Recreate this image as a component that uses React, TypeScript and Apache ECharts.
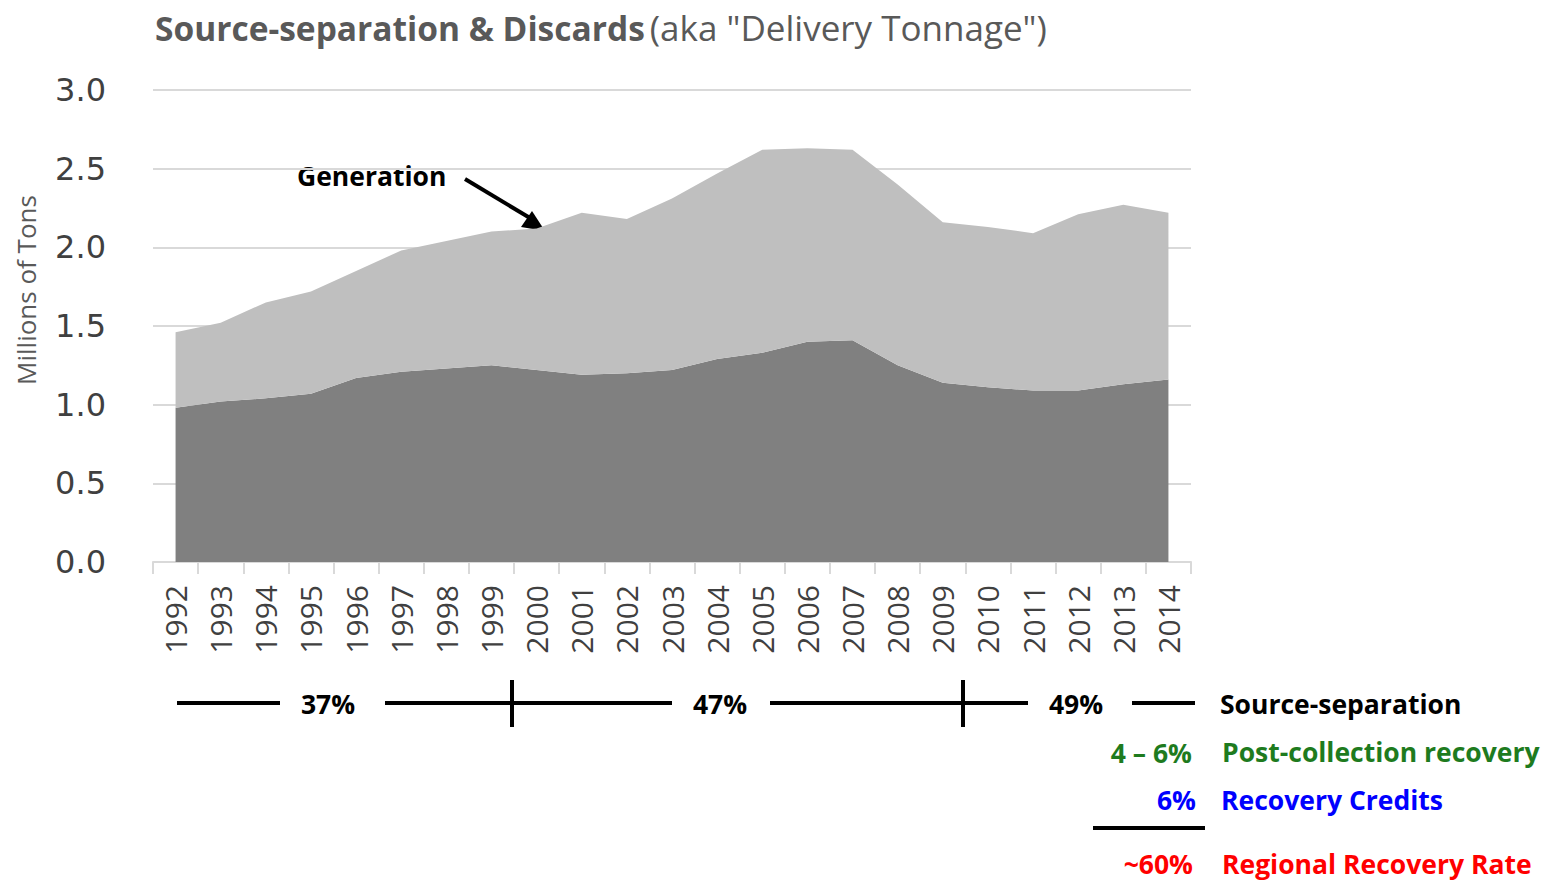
import React, { useEffect, useRef } from "react";
import * as echarts from "echarts";

const years = ["1992","1993","1994","1995","1996","1997","1998","1999","2000","2001","2002","2003","2004","2005","2006","2007","2008","2009","2010","2011","2012","2013","2014"];
const generation = [1.46,1.52,1.65,1.72,1.85,1.98,2.04,2.10,2.12,2.22,2.18,2.31,2.47,2.62,2.63,2.62,2.40,2.16,2.13,2.09,2.21,2.27,2.22];
const discards = [0.98,1.02,1.04,1.07,1.17,1.21,1.23,1.25,1.22,1.19,1.20,1.22,1.29,1.33,1.40,1.41,1.25,1.14,1.11,1.09,1.09,1.13,1.16];
const sourceSeparation = generation.map((g, i) => +(g - discards[i]).toFixed(2));
const yTicks = [0, 0.5, 1.0, 1.5, 2.0, 2.5, 3.0];

const FONT = "Open Sans";
const GREEN = "#1e7b1e";

function hline(x1: number, x2: number, y: number) {
  return { type: "line", shape: { x1, y1: y, x2, y2: y }, style: { stroke: "#000", lineWidth: 4 } };
}
function vline(x: number, y1: number, y2: number) {
  return { type: "line", shape: { x1: x, y1, x2: x, y2 }, style: { stroke: "#000", lineWidth: 4 } };
}
function txt(x: number, y: number, text: string, color: string, align: string, size = 26.5) {
  return {
    type: "text",
    x,
    y,
    style: { text, fill: color, font: `bold ${size}px "${FONT}"`, textAlign: align, textVerticalAlign: "middle" },
  };
}

export default function App() {
  const ref = useRef<HTMLDivElement>(null);
  useEffect(() => {
    if (!ref.current) return;
    const chart = echarts.init(ref.current, null, { renderer: "svg" });
    chart.setOption({
      animation: false,
      backgroundColor: "#ffffff",
      title: {
        left: 150,
        top: 5,
        text: '{b|Source-separation & Discards} {n|(aka "Delivery Tonnage")}',
        textStyle: {
          rich: {
            b: { fontFamily: FONT, fontWeight: "bold", fontSize: 33.5, color: "#595959" },
            n: { fontFamily: FONT, fontWeight: "normal", fontSize: 35, color: "#595959" },
          },
        },
      },
      grid: { left: 153, right: 357, top: 90, bottom: 319, containLabel: false },
      xAxis: {
        type: "category",
        data: years,
        boundaryGap: true,
        axisLine: { lineStyle: { color: "#d9d9d9", width: 2 } },
        axisTick: { show: true, length: 12, lineStyle: { color: "#d9d9d9", width: 2 } },
        axisLabel: { rotate: 90, fontSize: 30, color: "#404040", fontFamily: FONT, margin: 23, interval: 0 },
      },
      yAxis: {
        type: "value",
        min: 0,
        max: 3,
        interval: 0.5,
        name: "Millions of Tons",
        nameLocation: "middle",
        nameRotate: 90,
        nameGap: 114,
        nameTextStyle: { fontSize: 26, color: "#595959", fontFamily: FONT, padding: [0, 0, 0, 72] },
        axisLine: { show: false },
        axisTick: { show: false },
        axisLabel: {
          fontSize: 32,
          color: "#404040",
          fontFamily: "DejaVu Sans",
          margin: 47,
          formatter: (v: number) => (yTicks.includes(v) ? v.toFixed(1) : ""),
        },
        splitLine: { lineStyle: { color: "#d9d9d9", width: 2 } },
      },
      series: [
        {
          name: "Discards (Delivery)",
          type: "line",
          stack: "total",
          data: discards,
          symbol: "none",
          lineStyle: { width: 0 },
          areaStyle: { color: "#808080", opacity: 1 },
        },
        {
          name: "Source-separation",
          type: "line",
          stack: "total",
          data: sourceSeparation,
          symbol: "none",
          lineStyle: { width: 0 },
          areaStyle: { color: "#bfbfbf", opacity: 1 },
        },
      ],
      graphic: [
        txt(297, 176, "Generation", "#000", "left"),
        { type: "line", shape: { x1: 465, y1: 179, x2: 530, y2: 218 }, style: { stroke: "#000", lineWidth: 4 } },
        { type: "polygon", shape: { points: [[545, 231], [521, 227], [532, 211]] }, style: { fill: "#000" } },
        txt(789, 278, "Source-separation", "#000", "center"),
        txt(698, 464, "Discards (Delivery)", "#000", "center"),
        hline(177, 280, 703),
        hline(385, 672, 703),
        hline(770, 1028, 703),
        hline(1132, 1195, 703),
        vline(512, 680, 727),
        vline(963, 680, 727),
        txt(328, 704, "37%", "#000", "center"),
        txt(720, 704, "47%", "#000", "center"),
        txt(1076, 704, "49%", "#000", "center"),
        txt(1220, 704, "Source-separation", "#000", "left"),
        txt(1192, 753, "4 \u2013 6%", GREEN, "right"),
        txt(1222, 752, "Post-collection recovery", GREEN, "left"),
        txt(1196, 800, "6%", "#0000ff", "right"),
        txt(1221, 800, "Recovery Credits", "#0000ff", "left"),
        hline(1093, 1205, 828),
        txt(1193, 864, "~60%", "#ff0000", "right"),
        txt(1222, 864, "Regional Recovery Rate", "#ff0000", "left"),
      ],
    });
    return () => chart.dispose();
  }, []);
  return (
    <div
      ref={ref}
      style={{ position: "absolute", left: 0, top: 0, width: 1548, height: 881, fontVariantLigatures: "none" }}
    />
  );
}
